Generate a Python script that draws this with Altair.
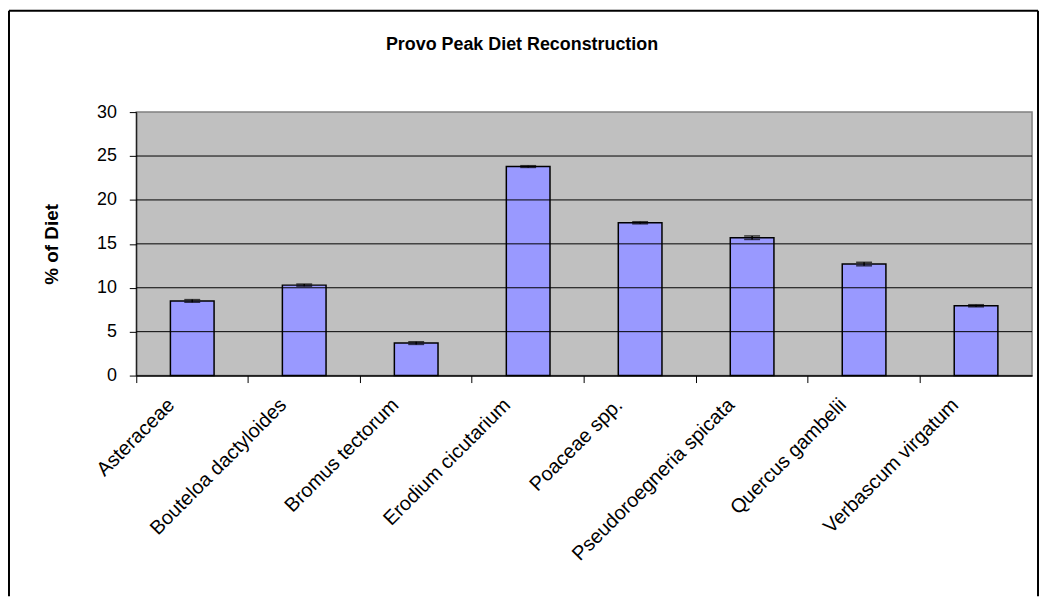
import altair as alt
import pandas as pd

categories = ["Asteraceae", "Bouteloa dactyloides", "Bromus tectorum", "Erodium cicutarium",
              "Poaceae spp.", "Pseudoroegneria spicata", "Quercus gambelii", "Verbascum virgatum"]
values = [8.5, 10.3, 3.7, 23.8, 17.4, 15.7, 12.7, 7.95]
errors = [0.15, 0.12, 0.15, 0.1, 0.12, 0.2, 0.2, 0.12]
y_ticks = [0, 5, 10, 15, 20, 25, 30]
grid_values = [5, 10, 15, 20, 25]
title_text = "Provo Peak Diet Reconstruction"
y_title = "% of Diet"

df = pd.DataFrame({
    "cat": categories,
    "value": values,
    "lo": [v - e for v, e in zip(values, errors)],
    "hi": [v + e for v, e in zip(values, errors)],
})
gdf = pd.DataFrame({"g": grid_values})
one = pd.DataFrame({"a": [0]})

FONT = "Liberation Sans"

x_axis = alt.Axis(title=None, labelAngle=-45, labelAlign="right", labelBaseline="top",
                  bandPosition=0, labelOffset=-28, tickSize=7, labelPadding=12,
                  labelFontSize=20, labelFont=FONT, labelColor="black",
                  domainColor="black", tickColor="black", domainWidth=1.5, labelLimit=400)
x_scale = alt.Scale(paddingInner=0, paddingOuter=0)
y_scale = alt.Scale(domain=[0, 30], nice=False)
y_axis = alt.Axis(values=y_ticks, title=y_title, titleFontSize=19, titleFont=FONT,
                  titleFontWeight="bold", titleColor="black", titleX=-85, titleY=132.5,
                  titleAngle=270, titleBaseline="middle", titleAlign="center",
                  labelFontSize=18, labelFont=FONT, labelColor="black", labelPadding=13,
                  tickSize=7, grid=False, domainColor="black", tickColor="black")


def X():
    return alt.X("cat:N", sort=categories, scale=x_scale, axis=x_axis)


def Y(field):
    return alt.Y(field, scale=y_scale, axis=y_axis, title=y_title)


bars = alt.Chart(df).mark_bar(
    width=alt.RelativeBandSize(0.39), color="#9999FF", stroke="black", strokeWidth=1.5
).encode(x=X(), y=Y("value:Q"))

grid = alt.Chart(gdf).mark_rule(color="black", strokeWidth=1).encode(y=Y("g:Q"))

err_rule = alt.Chart(df).mark_rule(color="black", strokeWidth=1.5).encode(
    x=X(), y=Y("lo:Q"), y2="hi:Q"
)
err_lo = alt.Chart(df).mark_tick(color="black", size=16, thickness=1.5).encode(
    x=X(), y=Y("lo:Q")
)
err_hi = alt.Chart(df).mark_tick(color="black", size=16, thickness=1.5).encode(
    x=X(), y=Y("hi:Q")
)

title = alt.Chart(one).mark_text(
    text=title_text, font=FONT, fontSize=18, fontWeight="bold", color="black",
    align="center", baseline="alphabetic"
).encode(x=alt.value(388), y=alt.value(-62))

frame_top = alt.Chart(one).mark_rule(color="black", strokeWidth=2).encode(
    x=alt.value(-128), x2=alt.value(907), y=alt.value(-102)
)
frame_left = alt.Chart(one).mark_rule(color="black", strokeWidth=2).encode(
    x=alt.value(-128), y=alt.value(-102), y2=alt.value(487)
)
frame_right = alt.Chart(one).mark_rule(color="black", strokeWidth=2).encode(
    x=alt.value(907), y=alt.value(-102), y2=alt.value(487)
)

chart = alt.layer(
    bars, grid, err_rule, err_lo, err_hi, title, frame_top, frame_left, frame_right
).properties(
    width=901, height=265,
    padding={"left": 129, "top": 103, "right": 7, "bottom": 222},
    autosize=alt.AutoSizeParams(type="none"),
    background="white",
).configure_view(
    fill="#C0C0C0", stroke="#808080", strokeWidth=1.5
)

chart.save("out.html", embed_options={"renderer": "svg", "actions": False})
